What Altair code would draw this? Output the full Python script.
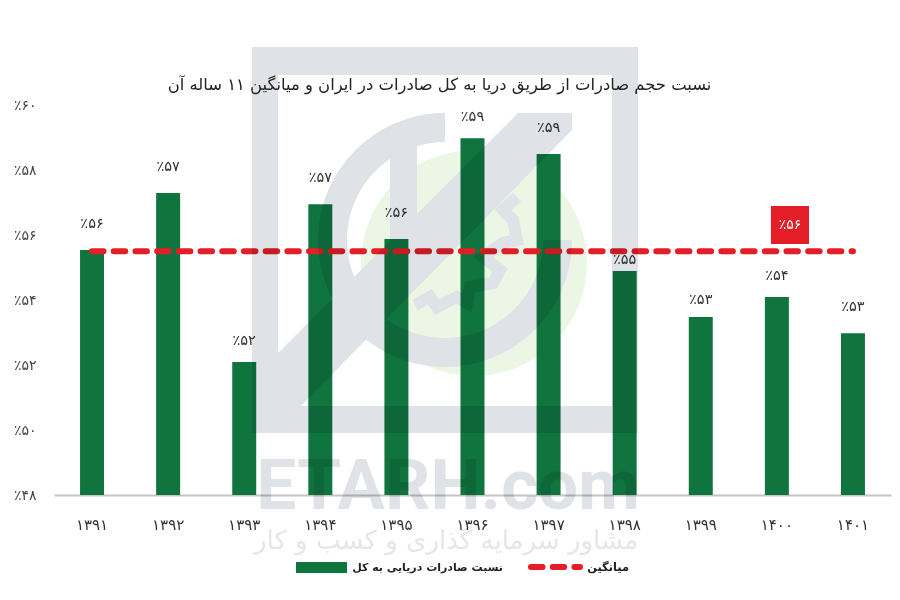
import json
import math
import altair as alt
import pandas as pd

# ---- chart values ----
years = ["۱۳۹۱", "۱۳۹۲", "۱۳۹۳", "۱۳۹۴", "۱۳۹۵", "۱۳۹۶", "۱۳۹۷", "۱۳۹۸", "۱۳۹۹", "۱۴۰۰", "۱۴۰۱"]
shares = [55.54, 57.29, 52.09, 56.95, 55.88, 58.98, 58.49, 54.89, 53.48, 54.09, 52.98]
bar_labels = ["٪۵۶", "٪۵۷", "٪۵۲", "٪۵۷", "٪۵۶", "٪۵۹", "٪۵۹", "٪۵۵", "٪۵۳", "٪۵۴", "٪۵۳"]
mean_share = 55.5
mean_label = "٪۵۶"
y_ticks = [48, 50, 52, 54, 56, 58, 60]
y_tick_labels = ["٪۴۸", "٪۵۰", "٪۵۲", "٪۵۴", "٪۵۶", "٪۵۸", "٪۶۰"]
title_text = "نسبت حجم صادرات از طریق دریا به کل صادرات در ایران و میانگین ۱۱ ساله آن"
legend_bar = "نسبت صادرات دریایی به کل"
legend_line = "میانگین"
wm_latin = "ETARH.com"
wm_persian = "مشاور سرمایه گذاری و کسب و کار"

FONT = "DejaVu Sans"
GREEN = "#0f743e"
RED = "#e31e26"
GREY = "#dfe2e6"
LEFT, TOP = 54, 105          # page position of the plot area

df = pd.DataFrame({"year": years, "share": shares, "label": bar_labels, "mean": [mean_share] * len(years)})

x = alt.X("year:N", sort=None, title=None,
          scale=alt.Scale(paddingInner=0.685, paddingOuter=0.3425),
          axis=alt.Axis(labelAngle=0, labelFont=FONT, labelFontSize=15, labelColor="#333333",
                        labelPadding=22, ticks=False, domainColor="#c4c4c4", domainWidth=2))
y = alt.Y("share:Q", title=None, scale=alt.Scale(domain=[48, 60], nice=False, clamp=True),
          axis=alt.Axis(values=y_ticks, ticks=False, domain=False, grid=False,
                        labelFont=FONT, labelFontSize=14, labelColor="#444444", labelPadding=18,
                        labelExpr=json.dumps({str(k): v for k, v in zip(y_ticks, y_tick_labels)}, ensure_ascii=False)
                        + "[datum.value]"))

bars = alt.Chart(df).mark_bar(color=GREEN).encode(x=x, y=y)
line = alt.Chart(df).mark_line(color=RED, strokeWidth=6, strokeCap="round", strokeDash=[11.5, 10.2]).encode(
    x=alt.X("year:N", sort=None), y=alt.Y("mean:Q"))

# value labels: the gap above each bar varies in the source graphic
gap_default = 26
gaps = {"۱۳۹۳": 21, "۱۳۹۶": 21, "۱۳۹۸": 11, "۱۳۹۹": 17, "۱۴۰۰": 21}
label_layers = []
for gap in sorted(set(gaps.values()) | {gap_default}):
    sub = df[[gaps.get(v, gap_default) == gap for v in df["year"]]]
    label_layers.append(
        alt.Chart(sub).mark_text(font=FONT, fontSize=14.5, color="#333333", dy=-gap).encode(
            x=alt.X("year:N", sort=None), y=alt.Y("share:Q"), text="label:N"))


def px(v):  # page x to plot-area pixels
    return v - LEFT


def py(v):  # page y to plot-area pixels
    return v - TOP


one = pd.DataFrame({"k": [0]})


def text_at(page_x, page_y, txt, font=FONT, **kw):
    return alt.Chart(pd.DataFrame({"t": [txt]})).mark_text(font=font, **kw).encode(
        x=alt.value(px(page_x)), y=alt.value(py(page_y)), text="t:N")


# red value badge
badge = alt.Chart(one).mark_rect(color=RED).encode(
    x=alt.value(px(771)), x2=alt.value(px(809)), y=alt.value(py(206)), y2=alt.value(py(244)))
badge_text = text_at(790, 225, mean_label, fontSize=14, color="white")

# hand-placed legend
leg_swatch = alt.Chart(one).mark_rect(color=GREEN).encode(
    x=alt.value(px(296)), x2=alt.value(px(347)), y=alt.value(py(562)), y2=alt.value(py(573)))
leg_text1 = text_at(503, 568, legend_bar, fontSize=11, fontWeight="bold", color="#222222", align="right")
leg_dash = alt.Chart(one).mark_rule(color=RED, strokeWidth=6, strokeCap="round", strokeDash=[11.5, 10.2]).encode(
    x=alt.value(px(531)), x2=alt.value(px(580)), y=alt.value(py(567)))
leg_text2 = text_at(629, 568, legend_line, fontSize=11.4, fontWeight="bold", color="#222222", align="right")

# ---- watermark: one union outline so overlaps do not darken twice ----
WM_CX, WM_CY, WM_HALF = 450, 250, 400


def poly(points):
    return "M " + " L ".join(
        f"{(a - WM_CX) / WM_HALF:.4f} {(b - WM_CY) / WM_HALF:.4f}" for a, b in points) + " Z"


def ring(cx, cy, ro, ri, a0, a1, n=64):
    pts = []
    for i in range(n + 1):
        t = math.radians(a0 + (a1 - a0) * i / n)
        pts.append((cx + ro * math.sin(t), cy - ro * math.cos(t)))
    for i in range(n, -1, -1):
        t = math.radians(a0 + (a1 - a0) * i / n)
        pts.append((cx + ri * math.sin(t), cy - ri * math.cos(t)))
    return pts


outline = " ".join([
    poly([(252, 47), (638, 47), (638, 75), (252, 75)]),
    poly([(612, 47), (638, 47), (638, 433), (612, 433)]),
    poly([(257, 406), (638, 406), (638, 433), (257, 433)]),
    poly([(252, 47), (278, 47), (278, 353), (252, 379)]),
    poly([(252, 379), (518, 113), (572, 113), (572, 130), (300, 407), (257, 433), (252, 433)]),
    poly(ring(445, 240, 127, 98, 90, 360)),
    poly([(390, 135), (417, 135), (417, 265), (390, 265)]),
])
gear = [(415, 305), (430, 297), (437, 307), (457, 297), (467, 303), (470, 287), (493, 283), (500, 270),
        (483, 257), (503, 243), (517, 240), (513, 220), (503, 210), (517, 197)]
gear_path = "M " + " L ".join(f"{(a - WM_CX) / WM_HALF:.4f} {(b - WM_CY) / WM_HALF:.4f}" for a, b in gear)


def wm_shape(path, **kw):
    return alt.Chart(one).mark_point(shape=path, size=(2 * WM_HALF) ** 2, opacity=1, **kw).encode(
        x=alt.value(px(WM_CX)), y=alt.value(py(WM_CY)))


# under the bars: the pale disc, with a white knock-out so the grey stays neutral above it
wm_disc = alt.Chart(one).mark_arc(color="#ebf7e4", radius=113, radius2=0, theta=0, theta2=2 * math.pi).encode(
    x=alt.value(px(474)), y=alt.value(py(263)))
wm_knock = wm_shape(outline, filled=True, fill="white")
wm_gear_knock = wm_shape(gear_path, filled=False, stroke="white", strokeWidth=12)
# above the bars: grey multiplied over everything
wm_frame = wm_shape(outline, filled=True, fill=GREY, blend="multiply")
wm_gear = wm_shape(gear_path, filled=False, stroke=GREY, strokeWidth=12, blend="multiply")
wm_t1 = text_at(448, 488, wm_latin, font="Roboto", fontSize=71, fontWeight="bold", color=GREY, blend="multiply")
wm_t2 = text_at(446, 541, wm_persian, fontSize=26, color="#e4e6e9", blend="multiply")

chart = alt.layer(
    wm_disc, wm_knock, wm_gear_knock,
    bars, line, *label_layers, badge, badge_text,
    leg_swatch, leg_text1, leg_dash, leg_text2,
    wm_frame, wm_gear, wm_t1, wm_t2,
).properties(
    width=837, height=390,
    title=alt.TitleParams(title_text, font=FONT, fontSize=16.4, fontWeight="normal", color="#222222",
                          anchor="middle", dx=-33, offset=-46),
    autosize=alt.AutoSizeParams(type="none"),
    padding={"left": LEFT - 8, "top": TOP - 8, "right": 1, "bottom": 85},
    background="white",
).configure_view(stroke=None)

chart.save("out.html", embed_options={"renderer": "svg", "actions": False})
